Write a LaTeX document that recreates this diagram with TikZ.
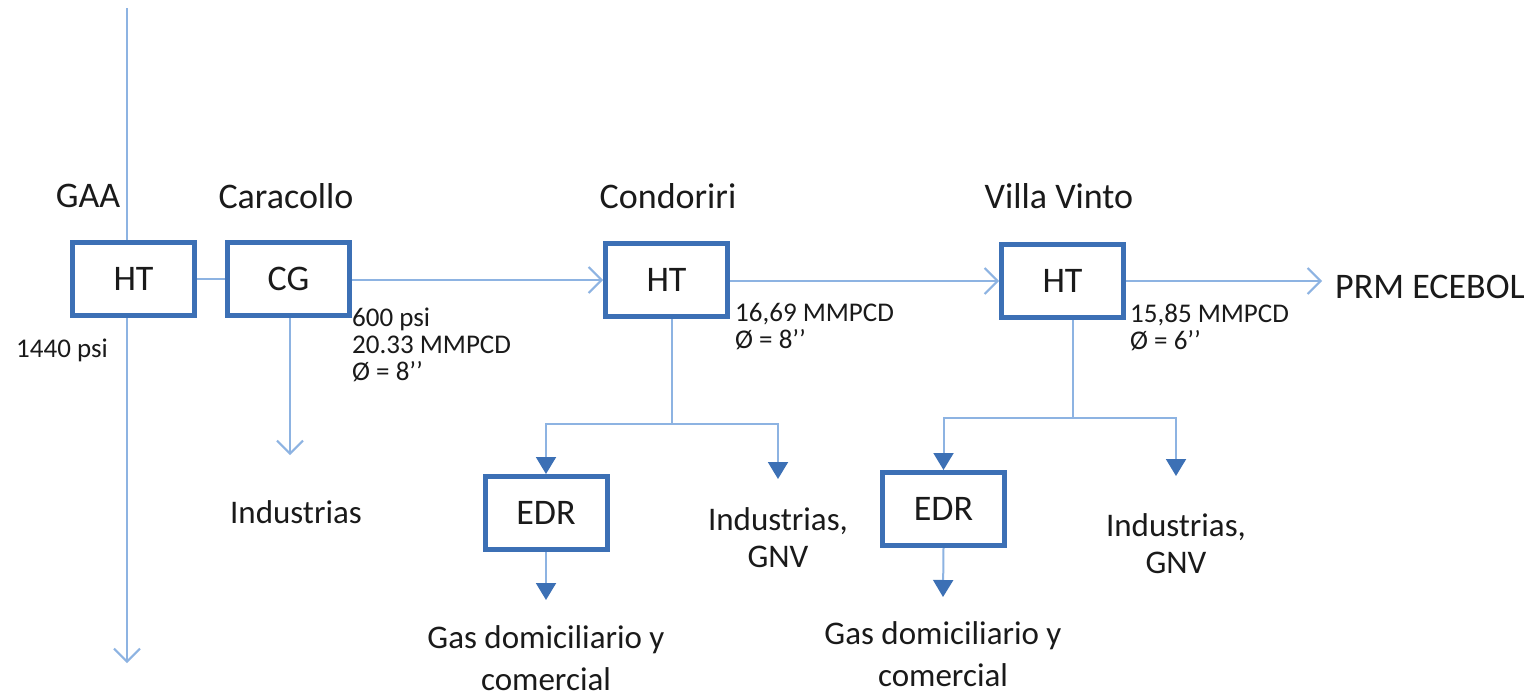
\documentclass[tikz,border=0pt]{standalone}
\usepackage{fontspec}
\setmainfont{Carlito}
\usetikzlibrary{arrows.meta}
\definecolor{boxblue}{HTML}{3C70B5}
\definecolor{lineblue}{HTML}{8DB3E2}
\definecolor{txt}{HTML}{1A1A1A}
\begin{document}
\begin{tikzpicture}[x=1pt,y=-1pt,
  box/.style={draw=boxblue, line width=5pt, fill=white, minimum width=122pt, minimum height=73pt, inner sep=0pt, font=\fontsize{36}{40}\selectfont, text=txt},
  lbl/.style={font=\fontsize{36}{40}\selectfont, text=txt, inner sep=0pt},
  sm/.style={font=\fontsize{27}{27}\selectfont, text=txt, align=left, inner sep=0pt},
  md/.style={font=\fontsize{33}{37}\selectfont, text=txt, align=center, inner sep=0pt},
  mdg/.style={font=\fontsize{33}{42}\selectfont, text=txt, align=center, inner sep=0pt},
  pipe/.style={draw=lineblue, line width=2pt},
  openarrow/.style={pipe, -{Straight Barb[length=13pt, width=26pt, line width=2pt]}},
  solidarrow/.style={pipe, -{Triangle[length=17pt, width=20pt, color=boxblue]}}
]
\clip (0,0) rectangle (1524,696);
\fill[white] (0,0) rectangle (1524,696);

% boxes
\node[box] (ht1) at (133.5,279) {HT};
\node[box] (cg) at (288.5,279) {CG};
\node[box] (ht2) at (666.5,280) {HT};
\node[box] (ht3) at (1062.5,281) {HT};
\node[box] (edr1) at (546,513) {EDR};
\node[box] (edr2) at (943.5,509) {EDR};

% station labels
\node[lbl] (gaa) at (88,196) {GAA};
\node[lbl] (cara) at (286,196) {Caracollo};
\node[lbl] (cond) at (668,196) {Condoriri};
\node[lbl] (villa) at (1059,196) {Villa Vinto};
\node[lbl, anchor=west] (prm) at (1335,287) {PRM ECEBOL};

% data labels
\node[sm, anchor=west] (p1440) at (16,350) {1440 psi};
\node[sm, anchor=north west] (d1) at (352,308) {600 psi\\20.33 MMPCD\\Ø = 8’’};
\node[sm, anchor=north west] (d2) at (735,303) {16,69 MMPCD\\Ø = 8’’};
\node[sm, anchor=north west] (d3) at (1130,304) {15,85 MMPCD\\Ø = 6’’};

% destination labels
\node[md] (ind1) at (296,512) {Industrias};
\node[md] (ind2) at (778,538) {Industrias,\\GNV};
\node[md] (ind3) at (1176,544) {Industrias,\\GNV};
\node[mdg] (gas1) at (546,658) {Gas domiciliario y\\comercial};
\node[mdg] (gas2) at (943,654) {Gas domiciliario y\\comercial};

% coordinates
\coordinate (gtop) at (127,8);
\coordinate (gbot) at (127,663);
\coordinate (cgend) at (290,455);
\coordinate (j2) at (672,424);
\coordinate (t2) at (778,479);
\coordinate (g1) at (546,600);
\coordinate (j3) at (1073,418);
\coordinate (t3) at (1176,476);
\coordinate (g2) at (943,597);

% main line
\draw[pipe] (gtop) -- (ht1.north -| gtop);
\draw[openarrow] (ht1.south -| gbot) -- (gbot);
\draw[pipe] (ht1.east) -- (cg.west);
\draw[openarrow] (cg.east |- ht2.west) -- (ht2.west);
\draw[openarrow] (ht2.east |- ht3.west) -- (ht3.west);
\draw[openarrow, shorten >=13pt] (ht3.east) -- (ht3.east -| prm.west);
\draw[openarrow] (cg.south -| cgend) -- (cgend);

% Condoriri branch
\draw[pipe] (ht2.south -| j2) -- (j2);
\draw[solidarrow] (j2) -| (edr1.north);
\draw[solidarrow] (j2) -| (t2);
\draw[solidarrow] (edr1.south) -- (g1);

% Villa Vinto branch
\draw[pipe] (ht3.south -| j3) -- (j3);
\draw[solidarrow] (j3) -| (edr2.north);
\draw[solidarrow] (j3) -| (t3);
\draw[solidarrow] (edr2.south) -- (g2);
\end{tikzpicture}
\end{document}
